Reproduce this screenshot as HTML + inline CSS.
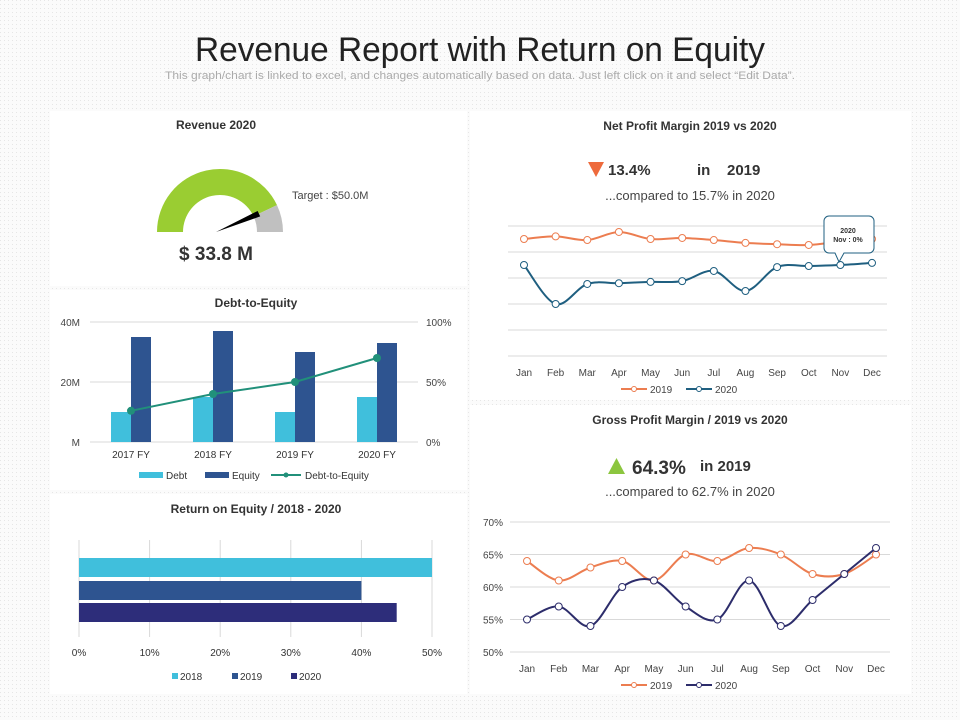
<!DOCTYPE html>
<html><head><meta charset="utf-8"><style>
html,body{margin:0;padding:0;background:#fff}
svg{display:block;font-family:"Liberation Sans",sans-serif}
</style></head><body>
<svg id="s" width="960" height="720" viewBox="0 0 960 720" xmlns="http://www.w3.org/2000/svg">
<defs>
<pattern id="grid" width="4" height="4" patternUnits="userSpaceOnUse"><rect width="4" height="4" fill="#fbfbfb"/><rect width="1" height="1" fill="#e6e6e6"/></pattern>
</defs>
<rect width="960" height="720" fill="url(#grid)"/>
<text x="480" y="61" text-anchor="middle" font-size="34" fill="#222" textLength="570" lengthAdjust="spacingAndGlyphs">Revenue Report with Return on Equity</text>
<text x="480" y="79" text-anchor="middle" font-size="11" fill="#aaa" textLength="630" lengthAdjust="spacingAndGlyphs">This graph/chart is linked to excel, and changes automatically based on data. Just left click on it and select “Edit Data”.</text>

<rect x="50" y="111" width="417" height="175" fill="#fff"/>
<rect x="50" y="290" width="417" height="200" fill="#fff"/>
<rect x="50" y="494" width="417" height="200" fill="#fff"/>
<rect x="470" y="111" width="441" height="289" fill="#fff"/>
<rect x="470" y="405" width="441" height="289" fill="#fff"/>

<!-- Revenue -->
<text x="216" y="129" text-anchor="middle" font-size="12" font-weight="bold" fill="#333">Revenue 2020</text>
<g id="gauge"></g>
<text x="292" y="199" font-size="11" fill="#444">Target : $50.0M</text>
<text x="216" y="260" text-anchor="middle" font-size="19" font-weight="bold" fill="#333">$ 33.8 M</text>

<!-- Debt -->
<text x="256" y="307" text-anchor="middle" font-size="12" font-weight="bold" fill="#333">Debt-to-Equity</text>
<g id="debt"></g>

<!-- ROE -->
<text x="256" y="513" text-anchor="middle" font-size="12" font-weight="bold" fill="#333">Return on Equity / 2018 - 2020</text>
<g id="roe"></g>

<!-- Net profit -->
<text x="690" y="130" text-anchor="middle" font-size="12" font-weight="bold" fill="#333">Net Profit Margin  2019 vs 2020</text>
<polygon points="588,162 604,162 596,177" fill="#ee6a3c"/>
<text x="608" y="175" font-size="15" font-weight="bold" fill="#333">13.4%</text>
<text x="697" y="175" font-size="15" font-weight="bold" fill="#333">in</text>
<text x="727" y="175" font-size="15" font-weight="bold" fill="#333">2019</text>
<text x="690" y="200" text-anchor="middle" font-size="13" fill="#444">...compared to 15.7% in 2020</text>
<g id="net"></g>

<!-- Gross -->
<text x="690" y="424" text-anchor="middle" font-size="12" font-weight="bold" fill="#333">Gross Profit Margin  / 2019 vs 2020</text>
<polygon points="608,474 625,474 616.5,458" fill="#8cc63f"/>
<text x="632" y="474" font-size="19" font-weight="bold" fill="#333">64.3%</text>
<text x="700" y="471" font-size="15" font-weight="bold" fill="#333">in 2019</text>
<text x="690" y="496" text-anchor="middle" font-size="13" fill="#444">...compared to 62.7% in 2020</text>
<g id="gross"></g>
</svg>
<script>
const gaugeValue = 0.86;
const debtCats = ["2017 FY","2018 FY","2019 FY","2020 FY"];
const debtVals = [10,15,10,15];
const equityVals = [35,37,30,33];
const dteVals = [26,40,50,70];
const debtLeftTicks = ["M","20M","40M"];
const debtRightTicks = ["0%","50%","100%"];
const roeCats = ["2018","2019","2020"];
const roeVals = [50,40,45];
const roeTicks = [0,10,20,30,40,50];
const months = ["Jan","Feb","Mar","Apr","May","Jun","Jul","Aug","Sep","Oct","Nov","Dec"];
const net2019 = [4.5,4.6,4.46,4.77,4.5,4.54,4.46,4.35,4.3,4.27,4.4,4.5];
const net2020 = [3.5,2.0,2.77,2.8,2.85,2.88,3.27,2.5,3.42,3.46,3.5,3.58];
const gross2019 = [64,61,63,64,61,65,64,66,65,62,62,65];
const gross2020 = [55,57,54,60,61,57,55,61,54,58,62,66];
const grossTicks = [50,55,60,65,70];

const NS="http://www.w3.org/2000/svg";
function mk(parent,tag,attrs,txt){const e=document.createElementNS(NS,tag);for(const k in attrs)e.setAttribute(k,attrs[k]);if(txt!==undefined)e.textContent=txt;parent.appendChild(e);return e;}
function smooth(pts){let d="M"+pts[0][0]+","+pts[0][1];for(let i=0;i<pts.length-1;i++){const p0=pts[i-1]||pts[i],p1=pts[i],p2=pts[i+1],p3=pts[i+2]||p2;const c1=[p1[0]+(p2[0]-p0[0])/6,p1[1]+(p2[1]-p0[1])/6],c2=[p2[0]-(p3[0]-p1[0])/6,p2[1]-(p3[1]-p1[1])/6];d+=" C"+c1+" "+c2+" "+p2;}return d;}

// Gauge
(function(){const g=document.getElementById('gauge');const cx=220,cy=232,R=63,r=37;
function arc(a0,a1,col,name){const p=(a,rad)=>[cx-rad*Math.cos(a),cy-rad*Math.sin(a)];const A=p(a0,R),B=p(a1,R),C=p(a1,r),D=p(a0,r);
const e=mk(g,'path',{d:`M${A} A${R},${R} 0 0 1 ${B} L${C} A${r},${r} 0 0 0 ${D}Z`,fill:col});

}
const a=gaugeValue*Math.PI;arc(0,a,'#9acd32','gauge-value-arc');arc(a,Math.PI,'#c0c0c0','gauge-remaining-arc');
const tip=[cx-(r+6)*Math.cos(a),cy-(r+6)*Math.sin(a)];const perp=[Math.sin(a)*3,-Math.cos(a)*3];
const n=mk(g,'polygon',{points:`${cx-4},${cy} ${tip[0]+perp[0]},${tip[1]+perp[1]} ${tip[0]-perp[0]},${tip[1]-perp[1]}`,fill:'#000'});

})();

// Debt chart
(function(){const g=document.getElementById('debt');const x0=90,x1=418,y0=442,yTop=322;const y=v=>y0-(v/40)*(y0-yTop);const yp=v=>y0-(v/100)*(y0-yTop);const cw=(x1-x0)/debtCats.length;const cx=i=>x0+cw*(i+0.5);
debtLeftTicks.forEach((t,i)=>{const yy=y(i*20);const l=mk(g,'line',{x1:x0,x2:x1,y1:yy,y2:yy,stroke:'#d9d9d9'});
const a=mk(g,'text',{x:80,y:yy+4,'text-anchor':'end','font-size':10,fill:'#444'},t);
const b=mk(g,'text',{x:426,y:yy+4,'font-size':10,fill:'#444'},debtRightTicks[i]);});
debtCats.forEach((c,i)=>{const b1=mk(g,'rect',{x:cx(i)-20,y:y(debtVals[i]),width:20,height:y0-y(debtVals[i]),fill:'#40bfdc'});
const b2=mk(g,'rect',{x:cx(i),y:y(equityVals[i]),width:20,height:y0-y(equityVals[i]),fill:'#2e5490'});
const t=mk(g,'text',{x:cx(i),y:458,'text-anchor':'middle','font-size':10,fill:'#333'},c);});
const pts=dteVals.map((v,i)=>[cx(i),yp(v)]);const pl=mk(g,'polyline',{points:pts.join(' '),fill:'none',stroke:'#21907a','stroke-width':2});
pts.forEach(p=>{const c=mk(g,'circle',{cx:p[0],cy:p[1],r:4,fill:'#21907a'});});
const L=[[139,'#40bfdc','Debt','rect'],[205,'#2e5490','Equity','rect'],[275,'#21907a','Debt-to-Equity','line']];
L.forEach(l=>{let m;if(l[3]==='rect')m=mk(g,'rect',{x:l[0],y:472,width:24,height:6,fill:l[1]});else{m=mk(g,'line',{x1:l[0]-4,x2:l[0]+26,y1:475,y2:475,stroke:l[1],'stroke-width':2});mk(g,'circle',{cx:l[0]+11,cy:475,r:2.5,fill:l[1]});}

const t=mk(g,'text',{x:l[0]+(l[3]==='rect'?27:30),y:479,'font-size':10,fill:'#333'},l[2]);});})();

// ROE
(function(){const g=document.getElementById('roe');const x0=79,x1=432;const x=v=>x0+(v/50)*(x1-x0);const cols=['#40bfdc','#2e5490','#2d2d7a'];const ys=[558,581,603];
roeTicks.forEach(t=>{const l=mk(g,'line',{x1:x(t),x2:x(t),y1:540,y2:637,stroke:'#d9d9d9'});
const a=mk(g,'text',{x:x(t),y:656,'text-anchor':'middle','font-size':10,fill:'#333'},t+'%');});
roeVals.forEach((v,i)=>{const b=mk(g,'rect',{x:x0,y:ys[i],width:x(v)-x0,height:19,fill:cols[i]});});
const lx=[172,232,291];roeCats.forEach((c,i)=>{const m=mk(g,'rect',{x:lx[i],y:673,width:6,height:6,fill:cols[i]});
const t=mk(g,'text',{x:lx[i]+8,y:680,'font-size':10,fill:'#333'},c);});})();

function lineChart(id,xa,xb,y,s1,s2,c1,c2,prefix,legY){const g=document.getElementById(id);const x=i=>xa+i*(xb-xa)/(months.length-1);
[[s1,c1,'2019'],[s2,c2,'2020']].forEach(s=>{const pts=s[0].map((v,i)=>[x(i),y(v)]);const p=mk(g,'path',{d:smooth(pts),fill:'none',stroke:s[1],'stroke-width':2});
pts.forEach(q=>{const c=mk(g,'circle',{cx:q[0],cy:q[1],r:3.5,fill:'#fff',stroke:s[1]});});});
months.forEach((m,i)=>{const t=mk(g,'text',{x:x(i),y:legY-17,'text-anchor':'middle','font-size':10,fill:'#444'},m);});
[[621,c1,'2019'],[686,c2,'2020']].forEach(l=>{const m=mk(g,'line',{x1:l[0],x2:l[0]+26,y1:legY-4,y2:legY-4,stroke:l[1],'stroke-width':2});
mk(g,'circle',{cx:l[0]+13,cy:legY-4,r:2.5,fill:'#fff',stroke:l[1]});
const t=mk(g,'text',{x:l[0]+29,y:legY,'font-size':10,fill:'#444'},l[2]);});}

// Net profit
(function(){const g=document.getElementById('net');const y=v=>356-v*26;
for(let k=0;k<=5;k++){const l=mk(g,'line',{x1:508,x2:887,y1:y(k),y2:y(k),stroke:'#d9d9d9'});}
lineChart('net',524,872,y,net2019,net2020,'#ec7d50','#1f5f80','net',393);
const tt=mk(g,'path',{d:'M829,216 h40 a5,5 0 0 1 5,5 v27 a5,5 0 0 1 -5,5 h-25 l-5,9 l-4,-9 h-6 a5,5 0 0 1 -5,-5 v-27 a5,5 0 0 1 5,-5z',fill:'#fff',stroke:'#1f5f80'});
mk(g,'text',{x:848,y:233,'text-anchor':'middle','font-size':7,'font-weight':'bold',fill:'#333'},'2020');
mk(g,'text',{x:848,y:242,'text-anchor':'middle','font-size':7,'font-weight':'bold',fill:'#333'},'Nov : 0%');})();

// Gross
(function(){const g=document.getElementById('gross');const y=v=>652-(v-50)/20*130;
grossTicks.forEach(t=>{const l=mk(g,'line',{x1:510,x2:890,y1:y(t),y2:y(t),stroke:'#d9d9d9'});
const a=mk(g,'text',{x:503,y:y(t)+4,'text-anchor':'end','font-size':10,fill:'#444'},t+'%');});
lineChart('gross',527,876,y,gross2019,gross2020,'#ec7d50','#2d2d6b','gross',689);})();
</script>
</body></html>
